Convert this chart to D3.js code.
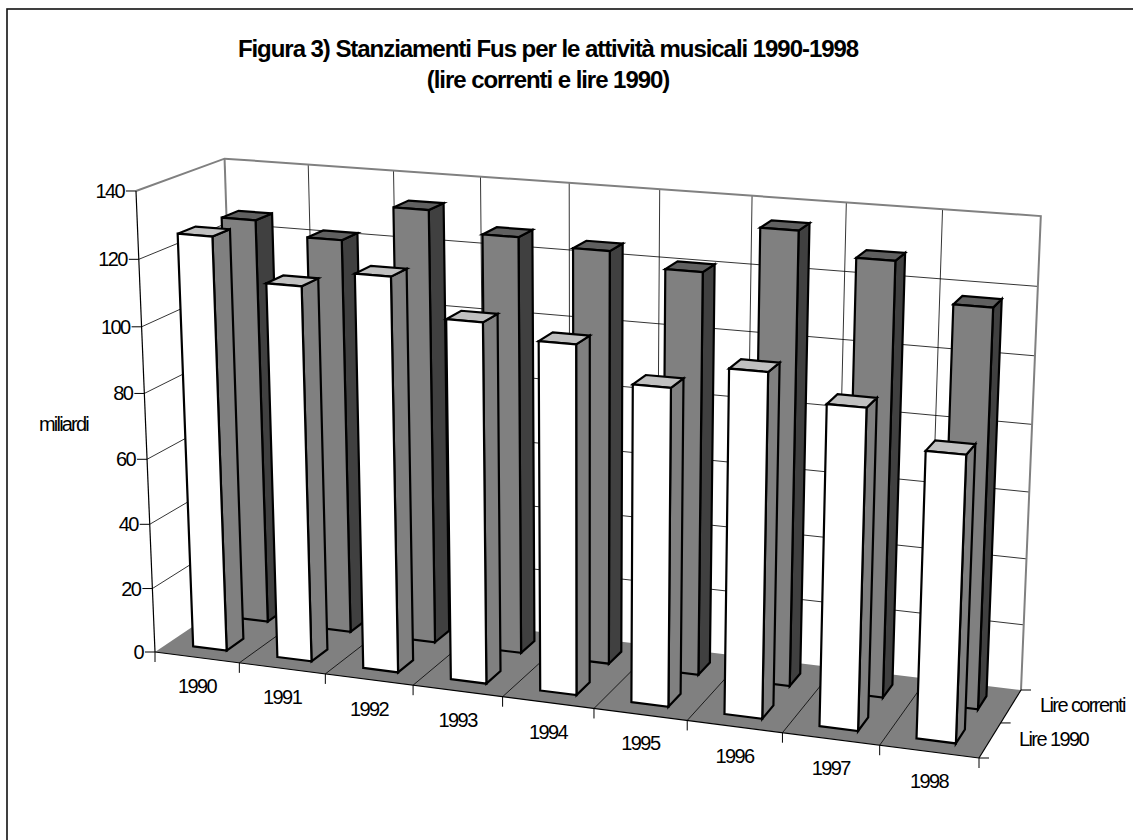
<!DOCTYPE html>
<html lang="it">
<head>
<meta charset="UTF-8">
<title>Stanziamenti Fus</title>
<style>
  body { margin: 0; background: #fff; overflow: hidden; }
  svg { display: block; }
  text { font-family: "Liberation Sans", Arial, sans-serif; fill: #000; }
</style>
</head>
<body>
<svg id="chart" width="1133" height="840"></svg>
<script src="https://d3js.org/d3.v7.min.js"></script>
<script>
// values
const years = ["1990", "1991", "1992", "1993", "1994", "1995", "1996", "1997", "1998"];
const lire1990 = [126.5, 114, 119, 108, 104, 94, 101, 93.5, 83];
const lireCorrenti = [126, 122, 133, 127, 125, 121, 135, 128.5, 117.5];
const seriesNames = ["Lire 1990", "Lire correnti"];
const valueTicks = [0, 20, 40, 60, 80, 100, 120, 140];
const titleLines = ["Figura 3) Stanziamenti Fus per le attività musicali 1990-1998", "(lire correnti e lire 1990)"];

const svg = d3.select("#chart");

// camera: floor quad on screen + vanishing point of the verticals
const floor = { fl: [155, 652], fr: [979, 758], br: [1021, 690], bl: [239, 595.5] };
const vp = [586, 11100];
const heightK = -0.04226;

// unit square -> floor quad homography
function squareToQuad(q) {
  const [x0, y0] = q.fl, [x1, y1] = q.fr, [x2, y2] = q.br, [x3, y3] = q.bl;
  const dx1 = x1 - x2, dx2 = x3 - x2, dx3 = x0 - x1 + x2 - x3;
  const dy1 = y1 - y2, dy2 = y3 - y2, dy3 = y0 - y1 + y2 - y3;
  const den = dx1 * dy2 - dx2 * dy1;
  const g = (dx3 * dy2 - dx2 * dy3) / den;
  const h = (dx1 * dy3 - dx3 * dy1) / den;
  return { a: x1 - x0 + g * x1, b: x3 - x0 + h * x3, c: x0, d: y1 - y0 + g * y1, e: y3 - y0 + h * y3, f: y0, g, h };
}
const H = squareToQuad(floor);

// u along years, w front to back, t up (all 0..1)
function project(u, w, t) {
  const W = H.g * u + H.h * w + 1;
  const X = H.a * u + H.b * w + H.c;
  const Y = H.d * u + H.e * w + H.f;
  const s = t * heightK;
  return [(X + s * vp[0]) / (W + s), (Y + s * vp[1]) / (W + s)];
}

const uBar = d3.scaleBand().domain(years).range([0, 1]).paddingInner(0.6).paddingOuter(0.3);
const uGrid = d3.scaleLinear().domain([0, years.length]).range([0, 1]);
const wBar = d3.scaleBand().domain(seriesNames).range([0, 1]).paddingInner(0.6).paddingOuter(0.3);
const tScale = d3.scaleLinear().domain([0, 140]).range([0, 1]);

const path = d3.line();
const poly = pts => path(pts) + "Z";
const seg = (g, a, b, color, width) => g.append("line")
  .attr("x1", a[0]).attr("y1", a[1]).attr("x2", b[0]).attr("y2", b[1])
  .attr("stroke", color).attr("stroke-width", width);

// frame, runs off the right and bottom of the page
svg.append("rect").attr("x", 7).attr("y", 9).attr("width", 1300).attr("height", 1000)
  .attr("fill", "#fff").attr("stroke", "#111").attr("stroke-width", 1.6);

// floor
const walls = svg.append("g");
walls.append("path").attr("fill", "#808080")
  .attr("d", poly([project(0, 0, 0), project(1, 0, 0), project(1, 1, 0), project(0, 1, 0)]));

// gridlines on left and back walls
valueTicks.slice(1, -1).forEach(v => {
  const t = tScale(v);
  seg(walls, project(0, 0, t), project(0, 1, t), "#000", 0.8);
  seg(walls, project(0, 1, t), project(1, 1, t), "#000", 0.8);
});
d3.range(1, years.length).forEach(i => {
  const u = uGrid(i);
  seg(walls, project(u, 1, 0), project(u, 1, 1), "#000", 0.8);
  seg(walls, project(u, 0, 0), project(u, 1, 0), "#000", 0.8);
});

// wall border
walls.append("path").attr("fill", "none").attr("stroke", "#808080").attr("stroke-width", 2)
  .attr("d", path([project(0, 0, 1), project(0, 1, 1), project(1, 1, 1), project(1, 1, 0)]));
seg(walls, project(0, 1, 0), project(0, 1, 1), "#808080", 2);

// axis lines and ticks
seg(walls, project(0, 0, 0), project(0, 0, 1), "#000", 1.2);
seg(walls, project(0, 0, 0), project(1, 0, 0), "#000", 1.2);
seg(walls, project(1, 0, 0), project(1, 1, 0), "#000", 1.2);

const labels = svg.append("g").attr("font-size", 20).attr("letter-spacing", -1.6);
valueTicks.forEach(v => {
  const p = project(0, 0, tScale(v));
  seg(walls, [p[0] - 10, p[1]], p, "#000", 1);
  labels.append("text").attr("x", p[0] - 12).attr("y", p[1] + 7)
    .attr("text-anchor", "end").text(v);
});
d3.range(0, years.length + 1).forEach(i => {
  const p = project(uGrid(i), 0, 0);
  seg(walls, p, [p[0], p[1] + 10], "#000", 1);
});
years.forEach((y, i) => {
  const p = project(uGrid(i + 0.5), 0, 0);
  labels.append("text").attr("x", p[0]).attr("y", p[1] + 36)
    .attr("text-anchor", "middle").text(y);
});
[0, 0.5, 1].forEach(w => {
  const p = project(1, w, 0);
  seg(walls, p, [p[0] + 10, p[1]], "#000", 1);
});
seriesNames.forEach((s, i) => {
  const p = project(1, (i + 0.5) / 2, 0);
  labels.append("text").attr("x", p[0] + 29).attr("y", p[1] + 6).text(s);
});

// bars: back row first, left to right
function drawBar(g, year, series, value, colors) {
  const u0 = uBar(year), u1 = u0 + uBar.bandwidth();
  const w0 = wBar(series), w1 = w0 + wBar.bandwidth();
  const t = tScale(value);
  const faces = [
    { pts: [project(u1, w0, 0), project(u1, w1, 0), project(u1, w1, t), project(u1, w0, t)], fill: colors.side },
    { pts: [project(u0, w0, t), project(u1, w0, t), project(u1, w1, t), project(u0, w1, t)], fill: colors.top },
    { pts: [project(u0, w0, 0), project(u1, w0, 0), project(u1, w0, t), project(u0, w0, t)], fill: colors.front }
  ];
  g.selectAll(null).data(faces).join("path")
    .attr("d", d => poly(d.pts))
    .attr("fill", d => d.fill)
    .attr("stroke", "#000").attr("stroke-width", 2.2).attr("stroke-linejoin", "miter");
}
const bars = svg.append("g");
years.forEach((y, i) => drawBar(bars, y, "Lire correnti", lireCorrenti[i], { front: "#808080", side: "#404040", top: "#606060" }));
years.forEach((y, i) => drawBar(bars, y, "Lire 1990", lire1990[i], { front: "#fff", side: "#808080", top: "#c0c0c0" }));

// title
svg.selectAll(".title").data(titleLines).join("text").attr("class", "title")
  .attr("x", 548).attr("y", (d, i) => 57 + i * 31)
  .attr("text-anchor", "middle").attr("font-size", 24).attr("font-weight", "bold")
  .attr("letter-spacing", -1.05).text(d => d);

svg.append("text").attr("x", 39).attr("y", 431).attr("font-size", 20).attr("letter-spacing", -1.8).text("miliardi");
</script>
</body>
</html>
